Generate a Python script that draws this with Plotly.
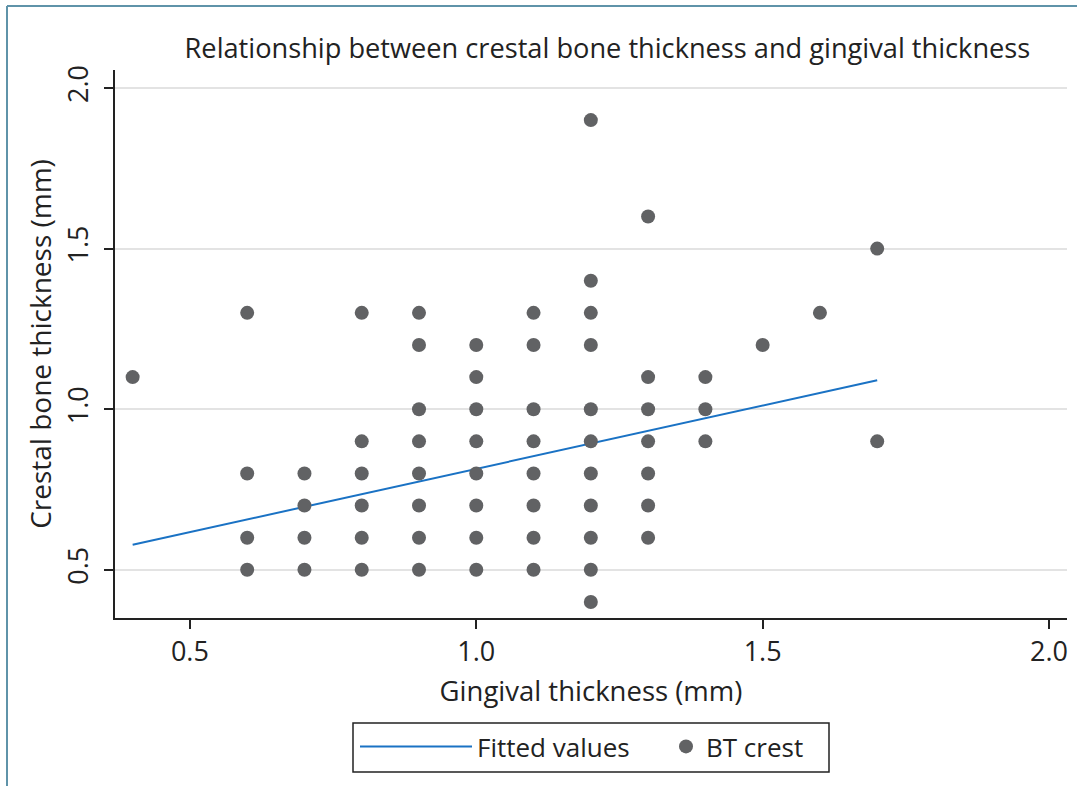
import plotly.graph_objects as go

# Scatter data: gingival thickness (x) vs crestal bone thickness (y)
gingival = [0.4,
            0.6, 0.6, 0.6, 0.6,
            0.7, 0.7, 0.7, 0.7,
            0.8, 0.8, 0.8, 0.8, 0.8, 0.8,
            0.9, 0.9, 0.9, 0.9, 0.9, 0.9, 0.9, 0.9,
            1.0, 1.0, 1.0, 1.0, 1.0, 1.0, 1.0, 1.0,
            1.1, 1.1, 1.1, 1.1, 1.1, 1.1, 1.1, 1.1,
            1.2, 1.2, 1.2, 1.2, 1.2, 1.2, 1.2, 1.2, 1.2, 1.2, 1.2,
            1.3, 1.3, 1.3, 1.3, 1.3, 1.3, 1.3,
            1.4, 1.4, 1.4,
            1.5,
            1.6,
            1.7, 1.7]
bone = [1.1,
        1.3, 0.8, 0.6, 0.5,
        0.8, 0.7, 0.6, 0.5,
        1.3, 0.9, 0.8, 0.7, 0.6, 0.5,
        1.3, 1.2, 1.0, 0.9, 0.8, 0.7, 0.6, 0.5,
        1.2, 1.1, 1.0, 0.9, 0.8, 0.7, 0.6, 0.5,
        1.3, 1.2, 1.0, 0.9, 0.8, 0.7, 0.6, 0.5,
        1.9, 1.4, 1.3, 1.2, 1.0, 0.9, 0.8, 0.7, 0.6, 0.5, 0.4,
        1.6, 1.1, 1.0, 0.9, 0.8, 0.7, 0.6,
        1.1, 1.0, 0.9,
        1.2,
        1.3,
        1.5, 0.9]

# Fitted line endpoints
fit_x = [0.4, 1.7]
fit_y = [0.578, 1.09]

tick_vals = [0.5, 1.0, 1.5, 2.0]
tick_text = ["0.5", "1.0", "1.5", "2.0"]

FONT = "Open Sans"
TXT = "#222222"

L, R, T, B = 115, 10, 70, 168
PW, PH = 1077 - L - R, 786 - T - B

def px_x(p):
    return (p - L) / PW

def px_y(p):
    return (786 - B - p) / PH

fig = go.Figure()
fig.add_trace(go.Scatter(
    x=fit_x, y=fit_y, mode="lines", name="Fitted values",
    line=dict(color="#1a72c4", width=2), legend="legend",
))
fig.add_trace(go.Scatter(
    x=gingival, y=bone, mode="markers", name="BT crest",
    marker=dict(color="#616264", size=14), legend="legend2",
))

fig.update_layout(
    width=1077, height=786,
    margin=dict(l=L, r=R, t=T, b=B),
    paper_bgcolor="white", plot_bgcolor="white",
    font=dict(family=FONT, size=26, color=TXT),
    title=dict(text="Relationship between crestal bone thickness and gingival thickness",
               x=0.564, xanchor="center", y=0.938, yanchor="middle",
               font=dict(family=FONT, size=27.2, color=TXT)),
    xaxis=dict(range=[0.3692, 2.0314], tickvals=tick_vals, ticktext=tick_text,
               showgrid=False, zeroline=False, automargin=False,
               showline=True, linecolor="#222222", linewidth=1.5,
               ticks="outside", ticklen=9, tickcolor="#222222", tickwidth=1.5,
               tickfont=dict(size=27, color=TXT),
               title=dict(text="Gingival thickness (mm)", standoff=14,
                          font=dict(size=27.5, color=TXT))),
    yaxis=dict(range=[0.35, 2.056], tickvals=tick_vals, ticktext=tick_text,
               showgrid=True, gridcolor="#e3e3e3", gridwidth=2, zeroline=False,
               automargin=False,
               showline=True, linecolor="#222222", linewidth=1.5,
               ticks="outside", ticklen=9, tickcolor="#222222", tickwidth=1.5,
               tickangle=-90, ticklabelstandoff=5,
               tickfont=dict(size=27, color=TXT),
               title=dict(text="Crestal bone thickness (mm)", standoff=0,
                          font=dict(size=28, color=TXT))),
    legend=dict(orientation="h", x=px_x(355), xanchor="left", y=px_y(723), yanchor="top",
                borderwidth=0, bgcolor="rgba(0,0,0,0)",
                font=dict(size=26, color=TXT), itemwidth=112),
    legend2=dict(orientation="h", x=px_x(666), xanchor="left", y=px_y(723), yanchor="top",
                 borderwidth=0, bgcolor="rgba(0,0,0,0)",
                 font=dict(size=26, color=TXT), itemwidth=30),
    showlegend=True,
)

# Legend frame
fig.add_shape(type="rect", xref="paper", yref="paper",
              x0=px_x(353), x1=px_x(829), y0=px_y(772), y1=px_y(723),
              line=dict(color="#222222", width=1.5), fillcolor="rgba(0,0,0,0)")

# Outer frame (top and left edges)
fig.add_shape(type="line", xref="paper", yref="paper",
              x0=px_x(7), x1=px_x(1090), y0=px_y(6), y1=px_y(6),
              line=dict(color="#5f93a9", width=2))
fig.add_shape(type="line", xref="paper", yref="paper",
              x0=px_x(7), x1=px_x(7), y0=px_y(6), y1=px_y(800),
              line=dict(color="#5f93a9", width=2))

fig.write_html("out.html")
